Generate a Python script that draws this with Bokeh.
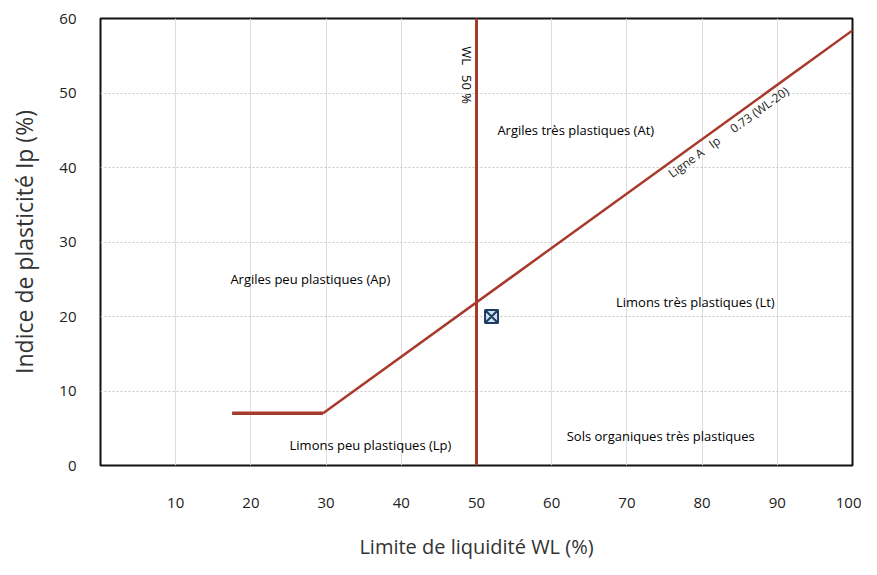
from bokeh.plotting import figure
from bokeh.models import Range1d, FixedTicker, Label
from bokeh.embed import file_html
from bokeh.resources import INLINE
import math

# Data
x_ticks = [10, 20, 30, 40, 50, 60, 70, 80, 90, 100]
y_ticks = [0, 10, 20, 30, 40, 50, 60]
u_line_x = [17.5, 29.6]
u_line_y = [7, 7]
a_line_x = [29.6, 100]
a_line_y = [7, 58.4]
wl50_x = [50, 50]
wl50_y = [0, 60]
sample_wl = [52]
sample_ip = [20]

zone_names = ["Argiles peu plastiques (Ap)", "Limons peu plastiques (Lp)",
              "Argiles très plastiques (At)", "Limons très plastiques (Lt)",
              "Sols organiques très plastiques"]
zone_x = [27.9, 35.9, 63.2, 79.1, 74.5]
zone_y = [25.0, 2.7, 45.0, 21.9, 4.0]

NB = "\u00a0"
wl_label = "WL" + NB * 3 + "50 %"
aline_label = "Ligne A" + NB * 3 + "Ip" + NB * 5 + "0.73 (WL-20)"

FONT = "Open Sans"
RED = "#a83a2c"

p = figure(width=861, height=562, output_backend="svg", toolbar_location=None,
           x_range=Range1d(0, 100), y_range=Range1d(0, 60),
           min_border_left=100, min_border_right=9, min_border_top=18, min_border_bottom=90)

p.outline_line_color = "#111111"
p.outline_line_width = 2
p.background_fill_color = "white"
p.border_fill_color = "white"

for ax in (p.xaxis[0], p.yaxis[0]):
    ax.axis_line_color = None
    ax.major_tick_line_color = None
    ax.minor_tick_line_color = None
    ax.major_label_text_font = FONT
    ax.major_label_text_font_size = "15px"
    ax.major_label_text_color = "#222222"
    ax.axis_label_text_font = FONT
    ax.axis_label_text_font_style = "normal"
    ax.axis_label_text_color = "#333333"

p.xaxis.axis_label_text_font_size = "20px"
p.yaxis.axis_label_text_font_size = "23px"
p.xaxis.ticker = FixedTicker(ticks=x_ticks)
p.yaxis.ticker = FixedTicker(ticks=y_ticks)
p.xaxis.major_label_standoff = 26
p.yaxis.major_label_standoff = 18
p.xaxis.axis_label = "Limite de liquidité WL (%)"
p.yaxis.axis_label = "Indice de plasticité Ip (%)"
p.xaxis.axis_label_standoff = 22
p.yaxis.axis_label_standoff = 16

p.xgrid.grid_line_color = "#dddddd"
p.xgrid.grid_line_width = 1
p.ygrid.grid_line_color = "#c8c8c8"
p.ygrid.grid_line_dash = "2 2"
p.ygrid.grid_line_width = 1

p.line(u_line_x, u_line_y, line_color=RED, line_width=3.5)
p.line(a_line_x, a_line_y, line_color=RED, line_width=2.5)
p.line(wl50_x, wl50_y, line_color=RED, line_width=3)

p.scatter(sample_wl, sample_ip, marker="square_x", size=13, line_color="#1f3b63",
          fill_color="#cfe3f5", line_width=2)

for name, x, y in zip(zone_names, zone_x, zone_y):
    p.add_layout(Label(x=x, y=y, text=name, text_font=FONT, text_font_size="13px",
                       text_color="#000000", text_align="center", text_baseline="middle"))

p.add_layout(Label(x=48.7, y=52.4, text=wl_label, angle=-math.pi / 2, text_font=FONT,
                   text_font_size="13px", text_color="#000000",
                   text_align="center", text_baseline="middle"))

# slope in screen space of the A-line
ang = math.atan((0.73 * 449 / 60) / (752 / 100))
p.add_layout(Label(x=83.5, y=0.73 * (83.5 - 20) - 1.6, text=aline_label,
                   angle=ang, text_font=FONT, text_font_size="12px", text_color="#222222",
                   text_align="center", text_baseline="middle"))

open("out.html", "w").write(file_html(p, INLINE))
